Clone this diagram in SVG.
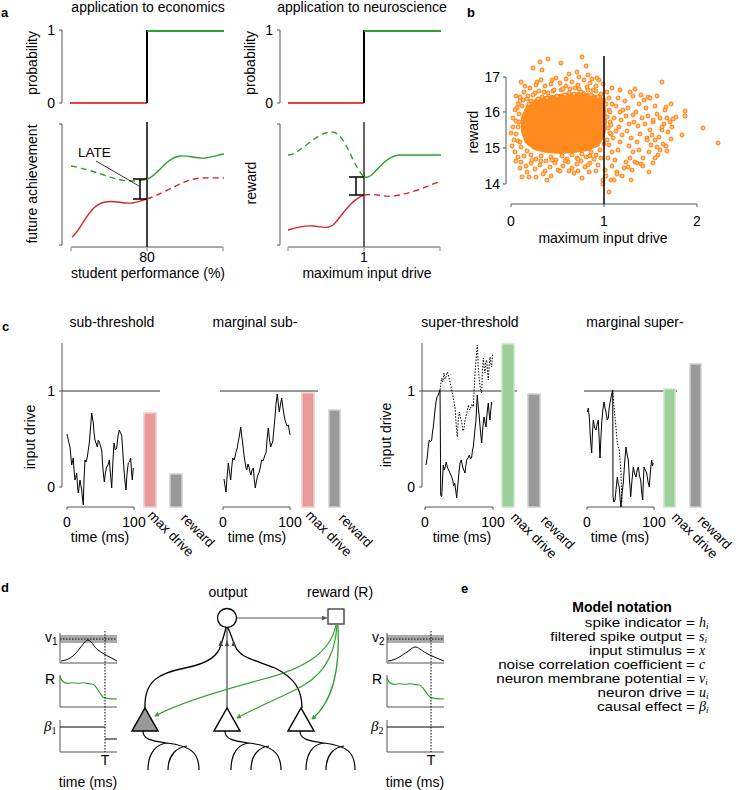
<svg xmlns="http://www.w3.org/2000/svg" width="736" height="790" viewBox="0 0 736 790">
<defs>
<style>
text{font-family:"Liberation Sans",Arial,sans-serif;font-size:14px;fill:#000}
.lbl{font-weight:bold;font-size:13px}
.mid{text-anchor:middle}
.end{text-anchor:end}
.ax{stroke:#555;stroke-width:1;fill:none}
.axg{stroke:#aaa;stroke-width:2;fill:none}
.red{stroke:#d62728;fill:none;stroke-width:1.4}
.grn{stroke:#2ca02c;fill:none;stroke-width:1.4}
.dash{stroke-dasharray:6 4}
.tr{stroke:#000;fill:none;stroke-width:1;stroke-linejoin:round}
.dt{stroke:#000;fill:none;stroke-width:1;stroke-dasharray:1.5 1.5}
.thr{stroke:#333;stroke-width:1;fill:none}
.barR{fill:#e89a9a;stroke:#f6c8c8;stroke-width:1.5}
.barG{fill:#9ccf9a;stroke:#c8e6c6;stroke-width:1.5}
.barK{fill:#999;stroke:#cfcfcf;stroke-width:1.5}
.rot{font-size:13.5px}
.math{font-family:"Liberation Serif","DejaVu Serif",serif;font-style:italic;font-size:14px}
.ent{font-size:13px;text-anchor:end}
.ln{stroke:#000;stroke-width:1.3;fill:none}
.gl{stroke:#2ca02c;stroke-width:1.2;fill:none}
.dend{stroke:#000;stroke-width:1.2;fill:none}
</style>
<marker id="pt" viewBox="0 0 6 6" refX="3" refY="3" markerWidth="6" markerHeight="6" markerUnits="userSpaceOnUse">
<circle cx="3" cy="3" r="2" fill="#ffbf85" stroke="#ff7f0e" stroke-width="1"/>
</marker>
<marker id="gArr" viewBox="0 0 6 6" refX="5" refY="3" markerWidth="5" markerHeight="5" orient="auto" markerUnits="userSpaceOnUse">
<path d="M0 0L6 3L0 6Z" fill="#2ca02c"/>
</marker>
<marker id="kArr" viewBox="0 0 6 6" refX="6" refY="3" markerWidth="6" markerHeight="5" orient="auto" markerUnits="userSpaceOnUse">
<path d="M0 0L6 3L0 6Z" fill="#555"/>
</marker>
</defs>
<rect width="736" height="790" fill="#fff"/>

<!-- Panel a: economics -->
<g id="panel-a-econ">
<text class="lbl" x="1" y="17">a</text>
<text class="mid" x="148" y="12">application to economics</text>
<path class="ax" d="M62 30V103M59 30H62M59 103H62"/>
<text class="end" x="55" y="35">1</text>
<text class="end" x="55" y="108">0</text>
<text class="mid" transform="translate(37,63) rotate(-90)">probability</text>
<path d="M70 103H147" stroke="#e04545" stroke-width="2" fill="none"/>
<path d="M147 30V103" stroke="#000" stroke-width="2"/>
<path d="M147 31H224" stroke="#2ca02c" stroke-width="2" fill="none"/>
<path class="ax" d="M62 124V245M59 124H62M59 245H62"/>
<path class="axg" d="M71 247H223"/>
<path d="M71 247v4M147 247v4M223 247v4" stroke="#aaa" stroke-width="1.5"/>
<path d="M147 122V247" stroke="#000" stroke-width="1.5"/>
<path class="grn dash" d="M71 166C95 170 115 181 130 181C138 181 143 180 147 179"/>
<path class="grn" d="M147 179C158 176 165 158 180 156C190 155 195 159 205 158C213 157 218 155 224 154"/>
<path class="red" d="M72 237C82 230 88 205 105 202C115 200 122 204 132 203C138 202 143 200 147 199"/>
<path class="red dash" d="M147 199C160 195 175 185 190 180C200 177 210 178 224 178"/>
<path d="M140 179V199M133 179H147M133 199H147" stroke="#000" stroke-width="1.5" fill="none"/>
<text x="78" y="157" style="font-size:13.5px">LATE</text>
<path d="M96 161L139 186" stroke="#000" stroke-width="0.8"/>
<text class="mid" x="147" y="262">80</text>
<text class="mid" x="148" y="278">student performance (%)</text>
<text class="mid" transform="translate(37,184) rotate(-90)">future achievement</text>
</g>

<!-- Panel a: neuroscience -->
<g id="panel-a-neuro">
<text class="mid" x="362" y="12">application to neuroscience</text>
<path class="ax" d="M280 30V103M277 30H280M277 103H280"/>
<text class="end" x="273" y="35">1</text>
<text class="end" x="273" y="108">0</text>
<text class="mid" transform="translate(255,63) rotate(-90)">probability</text>
<path d="M288 103H364" stroke="#e04545" stroke-width="2" fill="none"/>
<path d="M364 30V103" stroke="#000" stroke-width="2"/>
<path d="M364 31H441" stroke="#2ca02c" stroke-width="2" fill="none"/>
<path class="ax" d="M280 124V245M277 124H280M277 245H280"/>
<path class="axg" d="M288 247H440"/>
<path d="M288 247v4M364 247v4M440 247v4" stroke="#aaa" stroke-width="1.5"/>
<path d="M364 122V247" stroke="#333" stroke-width="1.5"/>
<path class="grn dash" d="M288 155C300 155 315 132 332 132C345 132 352 165 364 177"/>
<path class="grn" d="M364 177C375 180 380 157 400 155L441 155"/>
<path class="red" d="M288 230C298 227 305 225 313 226C322 227 328 229 333 225C340 219 350 200 364 195"/>
<path class="red dash" d="M364 195C375 193 382 197 392 196C408 195 425 187 441 181"/>
<path d="M356 177V195M349 177H364M349 195H364" stroke="#000" stroke-width="1.5" fill="none"/>
<text class="mid" x="364" y="262">1</text>
<text class="mid" x="367" y="278">maximum input drive</text>
<text class="mid" transform="translate(256,183) rotate(-90)">reward</text>
</g>

<!-- Panel b -->
<g id="panel-b">
<text class="lbl" x="467" y="17">b</text>
<text class="mid" transform="translate(478,132) rotate(-90)">reward</text>
<path class="ax" d="M506 77V184M503 77H506M503 112H506M503 148H506M503 184H506"/>
<text class="end" x="500" y="82">17</text>
<text class="end" x="500" y="117">16</text>
<text class="end" x="500" y="153">15</text>
<text class="end" x="500" y="189">14</text>
<path class="ax" d="M511 204H697M511 204v3M604 204v3M697 204v3"/>
<text class="mid" x="511" y="226">0</text>
<text class="mid" x="604" y="226">1</text>
<text class="mid" x="697" y="226">2</text>
<text class="mid" x="603" y="243">maximum input drive</text>
<polygon points="527,104 538,97 552,95 566,93 580,92 593,94 603,98 606,108 607,122 605,136 599,146 588,151 574,153 560,154 546,153 534,150 525,143 521,132 521,117" fill="#ff8a1e"/>
<path fill="none" stroke="none" marker-start="url(#pt)" marker-mid="url(#pt)" marker-end="url(#pt)" d="M523 100 528 96 531 101 535 93 538 99 544 92 547 98 553 91 556 97 561 90 565 95 570 89 574 94 579 89 583 93 588 90 591 95 596 91 600 96 604 100 606 104 609 110 607 117 610 122 608 128 611 134 607 140 604 144 600 150 596 155 591 152 586 157 582 154 577 158 572 155 567 159 562 156 556 160 551 157 546 161 541 156 536 159 531 155 527 151 524 156 521 147 518 141 516 134 518 127 516 121 519 114 517 108 522 106 520 101 520 97 524 92 527 99 530 88 533 95 536 85 539 91 542 97 545 86 548 93 551 84 554 90 557 96 560 83 563 89 566 86 569 93 572 82 575 88 578 85 581 92 584 80 587 87 590 83 593 90 596 86 599 80 601 94 603 84 525 86 529 104 518 104 515 110 513 118 516 96 521 82 541 80 556 78 566 79 579 77 592 79 598 97 513 127 511 133 514 140 512 146 515 152 518 157 521 162 526 166 531 163 535 169 540 165 545 171 550 167 555 163 558 170 563 166 568 162 572 168 577 164 581 161 585 167 590 163 594 159 598 165 601 158 596 171 589 172 574 173 543 174 527 172 520 168 516 161 532 160 541 161 552 160 565 161 578 159 590 156 519 122 520 142 607 92 609 98 612 104 610 112 614 118 611 125 616 131 613 138 609 145 612 152 608 158 615 160 618 150 620 142 622 135 619 127 621 120 623 110 618 98 625 101 628 108 626 116 629 124 627 131 631 138 629 146 633 152 630 158 635 162 626 162 624 168 632 170 639 150 637 142 640 134 638 126 642 118 636 112 639 104 633 96 644 100 646 108 648 116 645 124 650 130 647 138 651 145 655 140 653 122 657 114 655 106 660 118 662 130 659 137 664 124 667 118 665 110 670 122 668 132 673 119 676 117 649 152 643 158 641 164 655 158 660 150 612 166 617 172 605 170 606 176 614 180 622 176 616 106 610 133 620 112 634 122 641 95 648 97 620 90 612 88 657 96 671 104 633 115 630 92 582 57 540 62 548 59 561 63 533 68 542 70 586 66 577 72 569 74 588 75 597 78 552 80 537 82 662 82 635 89 650 98 666 107 685 111 685 116 703 128 718 143 682 135 662 127 653 120 672 127 522 177 529 177 536 177 547 180 551 176 560 171 569 171 578 171 582 178 588 165 603 180 603 184 609 192 611 180 617 174 631 180 628 167 637 163 643 166 649 172 653 163 658 155 667 151 666 146 663 144 671 139 657 147 652 135 647 140"/>
<path d="M604 56V204" stroke="#000" stroke-width="1.5"/>
</g>

<!-- Panel c -->
<g id="panel-c-sub">
<text class="lbl" x="2" y="331">c</text>
<text class="mid" x="112" y="327">sub-threshold</text>
<text class="mid" transform="translate(35,437) rotate(-90)">input drive</text>
<path class="ax" d="M62 343V487M59 391H62M59 487H62"/>
<text class="end" x="55" y="396">1</text>
<text class="end" x="55" y="492">0</text>
<path class="thr" d="M62 391H160"/>
<path class="ax" d="M67 507H134M67 507v3M134 507v3"/>
<text class="mid" x="67" y="527">0</text>
<text class="mid" x="134" y="527">100</text>
<text class="mid" x="100" y="542">time (ms)</text>
<polyline class="tr" points="67,434 68.5,441 70,447 71,458 71.7,465 73.3,458 74,470 75,480 76.7,473 77.5,486 78.3,493 80,480 81,486 81.7,490 82.5,498 83.3,505 84,480 85,460 86,462 87.3,457 88.3,450 89.3,443 90.5,428 91.7,413 93.3,423 94,433 95,440 96,443 97.3,447 98.3,440 99.3,442 100.5,446 101.7,450 103,470 104.3,482 105.5,472 106.7,467 108,465 109.3,460 110.5,474 111.7,488 113,460 114,443 115.3,450 116.7,448 118,436 119.3,430 120.5,433 121.7,435 123,455 124,470 125,482 126,490 127,474 128.3,463 129.5,462 130.7,458 131.5,472 132.3,480 133.3,468"/>
<rect class="barR" x="144" y="413" width="12" height="94"/>
<rect class="barK" x="170" y="474" width="12" height="33"/>
<text class="rot" transform="translate(147,516) rotate(45)">max drive</text>
<text class="rot" transform="translate(180,519) rotate(45)">reward</text>
</g>

<g id="panel-c-marginal-sub">
<text class="mid" x="255" y="327">marginal sub-</text>
<path class="thr" d="M220 391H318"/>
<path class="ax" d="M223 507H290M223 507v3M290 507v3"/>
<text class="mid" x="223" y="527">0</text>
<text class="mid" x="290" y="527">100</text>
<text class="mid" x="257" y="542">time (ms)</text>
<polyline class="tr" points="224,479 225,486 226,492 227,478 228.3,463 229.5,472 230.7,480 231.7,468 232.7,458 234,460 235,457 236,452 237.3,448 238,443 239,438 240,432 240.7,427 241.7,436 242.7,443 244,455 245,462 246,468 246.7,470 248,464 249,467 250,472 251,475 252,470 253.3,468 254.3,480 255.3,488 256.3,482 257.3,477 258.3,474 259.3,472 260.5,466 261.7,460 263,461 264,458 265,455 266,453 267,440 268.3,428 269.5,440 270.7,447 271.7,444 272.7,442 274,428 275,417 276,404 277.3,394 278.3,404 279.3,412 280.5,404 281.7,398 283,408 284,415 285,420 286,423 287,426 288.3,425 289.2,430 290,435"/>
<rect class="barR" x="302" y="393" width="12" height="114"/>
<rect class="barK" x="329" y="410" width="11" height="97"/>
<text class="rot" transform="translate(305,516) rotate(45)">max drive</text>
<text class="rot" transform="translate(338,519) rotate(45)">reward</text>
</g>

<g id="panel-c-super">
<text class="mid" x="470" y="327">super-threshold</text>
<text class="mid" transform="translate(391,435) rotate(-90)">input drive</text>
<path class="ax" d="M422 343V487M419 391H422M419 487H422"/>
<text class="end" x="415" y="396">1</text>
<text class="end" x="415" y="492">0</text>
<path class="thr" d="M422 391H517"/>
<path class="ax" d="M425 507H493M425 507v3M493 507v3"/>
<text class="mid" x="425" y="527">0</text>
<text class="mid" x="493" y="527">100</text>
<text class="mid" x="462" y="542">time (ms)</text>
<polyline class="tr" points="426,465 427.3,457 428.3,446 429.3,440 430.5,442 431.7,440 432.5,432 433.3,427 434.2,418 435,410 436,402 436.7,398 437.5,396 438.3,395 439.2,392 440,390 440.4,440 440.7,495 441.7,497 442.5,480 443.3,465 444.2,470 445,468 446.2,462 447.3,467 448.6,470 450,473 451.3,476 452.7,480 453.7,486 454.7,483 455.7,490 456.7,498 457.5,488 458.3,480 459.2,470 460,463 461.3,460 462.7,467 463.8,470 465,473 465.8,466 466.7,460 468,458 469.3,455 470.5,459 471.7,457 472.5,450 473.3,447 474.7,432 476,420 476.7,405 477.3,395 478.3,408 479.3,417 480.5,432 481.7,443 482.8,428 484,417 485,422 486,427 487.2,412 488.3,403 489.2,414 490,420 490.8,410 491.7,402"/>
<polyline class="dt" points="440,390 441.7,378 442.8,382 444,373 445,379 446,377 447.2,372 448.3,375 450,382 451.7,390 453.3,398 455,407 456.2,425 457.3,437 458.3,420 459.3,412 460.5,418 461.7,422 462.8,431 464,428 465,420 466,417 467.2,411 468.3,405 469.5,410 470.7,408 472,404 473.3,407 474.2,390 475,373 476.2,358 477.3,345 478.3,368 479.3,380 480.5,390 481.7,393 482.5,370 483.3,358 484.2,368 485,373 485.8,362 486.7,360 487.5,372 488.3,380 489.2,365 490,357 490.8,364 491.7,367 492.7,353"/>
<rect class="barG" x="502" y="344" width="12" height="163"/>
<rect class="barK" x="528" y="394" width="12" height="113"/>
<text class="rot" transform="translate(510,518) rotate(45)">max drive</text>
<text class="rot" transform="translate(540,521) rotate(45)">reward</text>
</g>

<g id="panel-c-marginal-super">
<text class="mid" x="635" y="327">marginal super-</text>
<path class="thr" d="M584 391H677"/>
<path class="ax" d="M587 507H654M587 507v3M654 507v3"/>
<text class="mid" x="587" y="527">0</text>
<text class="mid" x="654" y="527">100</text>
<text class="mid" x="620" y="542">time (ms)</text>
<polyline class="tr" points="587.3,412 588.3,408 589.3,417 590.5,440 591.7,453 592.5,432 593.3,420 594.7,428 596,430 597.2,424 598.3,420 599.2,440 600,458 600.8,440 601.7,423 602.8,410 604,402 605,408 606,412 607.2,420 608.3,418 609.2,408 610,403 611.3,396 612.7,390 612.9,440 613,497 614,502 615,500 616.2,488 617.3,477 618.3,484 619.3,487 620.2,500 621,507 622.2,492 623.3,483 624.7,462 626,447 627.2,455 628.3,460 629.5,480 630.7,497 632,480 633.3,467 634.7,474 636,477 637.2,470 638.3,467 639.5,476 640.7,480 641.7,492 642.7,500 643.3,482 644,467 645.3,470 646.7,473 648,482 649.3,487 650.5,470 651.7,460 652.5,466 653.3,463"/>
<polyline class="dt" points="612.7,390 613.8,404 615,417 616.2,430 617.3,443 618.3,447 619.3,450 620.2,462 621,473 621.5,490 622,503"/>
<rect class="barG" x="664" y="389" width="11" height="118"/>
<rect class="barK" x="690" y="364" width="11" height="143"/>
<text class="rot" transform="translate(671,518) rotate(45)">max drive</text>
<text class="rot" transform="translate(697,521) rotate(45)">reward</text>
</g>

<!-- Panel d: mini plots -->
<g id="panel-d-neuron1-traces">
<text class="lbl" x="1" y="592">d</text>
<rect x="60" y="635" width="57" height="8" fill="#aaa"/>
<path class="dt" d="M60 639H117"/>
<path class="ax" d="M60 633V663H117M60 675V707H117M60 720V752H117"/>
<path d="M61 661C70 660 75 655 80 648C84 643 86 640 88 640C91 640 94 647 98 650C103 654 110 657 117 661" stroke="#000" stroke-width="1" fill="none"/>
<path d="M60 676C62 683 66 684 70 683C74 682 77 684 81 683C85 682 88 684 92 684C96 684 98 692 103 697C106 699 110 699 117 699" stroke="#2ca02c" stroke-width="1.2" fill="none"/>
<path d="M60 727H105M105 739H117" stroke="#000" stroke-width="1" fill="none"/>
<path class="dt" d="M105 631V752" stroke="#555" stroke-width="0.8"/>
<text x="45" y="642">v<tspan font-size="10" dy="3">1</tspan></text>
<text x="45" y="684">R</text>
<text x="44" y="731" class="math" fill="#777" style="font-size:15px">β<tspan font-size="10" dy="3" font-style="normal">1</tspan></text>
<text class="mid" x="105" y="765">T</text>
<text class="mid" x="88" y="787">time (ms)</text>
</g>

<g id="panel-d-neuron2-traces">
<rect x="387" y="635" width="57" height="8" fill="#aaa"/>
<path class="dt" d="M387 639H444"/>
<path class="ax" d="M387 633V663H444M387 675V707H444M387 720V752H444"/>
<path d="M388 661C397 660 402 655 407 652C411 649 413 647 415 647C418 647 421 650 426 653C431 656 437 658 444 661" stroke="#000" stroke-width="1" fill="none"/>
<path d="M387 678C389 684 393 685 397 684C401 683 404 685 408 684C412 683 415 685 419 685C423 685 425 693 430 697C433 699 437 699 444 699" stroke="#2ca02c" stroke-width="1.2" fill="none"/>
<path d="M387 727H444" stroke="#000" stroke-width="1" fill="none"/>
<path class="dt" d="M431 631V752" stroke="#555" stroke-width="0.8"/>
<text x="372" y="642">v<tspan font-size="10" dy="3">2</tspan></text>
<text x="372" y="684">R</text>
<text x="371" y="731" class="math" fill="#777" style="font-size:15px">β<tspan font-size="10" dy="3" font-style="normal">2</tspan></text>
<text class="mid" x="431" y="765">T</text>
<text class="mid" x="415" y="787">time (ms)</text>
</g>

<!-- Panel d: network connectors -->
<g id="connectors">
<path d="M237 618H327" stroke="#555" stroke-width="1" fill="none" marker-end="url(#kArr)"/>
<path class="ln" d="M145 708C144 680 160 673 185 668C210 663 218 655 221 645C223 638 225 632 226 628"/>
<path d="M227 708V628" stroke="#555" stroke-width="1.3" fill="none"/>
<path class="ln" d="M302 708C302 690 295 678 275 668C255 660 240 658 235 646C232 638 230 632 228 628"/>
<path d="M221 640L218.5 646L223 646ZM227 640L225 646L229 646ZM233.5 640L231.5 646L236 646Z" fill="#444"/>
<path class="gl" d="M336 625C330 655 300 670 260 680C215 692 175 705 155 716" marker-end="url(#gArr)"/>
<path class="gl" d="M337 625C335 660 320 678 295 690C275 700 255 708 237 718" marker-end="url(#gArr)"/>
<path class="gl" d="M338 625C340 665 335 700 312 719" marker-end="url(#gArr)"/>
</g>

<g id="node-output">
<circle cx="227" cy="618" r="9.5" fill="#fff" stroke="#000" stroke-width="1.3"/>
<text class="mid" x="228" y="597">output</text>
</g>
<g id="node-reward">
<rect x="328" y="609" width="16" height="15" fill="#fff" stroke="#333" stroke-width="1.3"/>
<text x="307" y="597">reward (R)</text>
</g>
<g id="neuron-1">
<polygon points="145,708 132,731 158,731" fill="#999" stroke="#000" stroke-width="1.5"/>
<path class="dend" d="M143 731C143 740 153 741 167 743C190 746 199 752 199 770M148 770C148 752 157 744 167 743M168 770C168 755 177 747 187 746"/>
</g>
<g id="neuron-2">
<polygon points="227,708 214,731 240,731" fill="#fff" stroke="#000" stroke-width="1.5"/>
<path class="dend" d="M225 731C225 740 235 741 249 743C272 746 281 752 281 770M231 770C231 752 239 744 249 743M251 770C251 755 259 747 269 746"/>
</g>
<g id="neuron-3">
<polygon points="301,708 288,731 314,731" fill="#fff" stroke="#000" stroke-width="1.5"/>
<path class="dend" d="M300 731C300 740 310 741 324 743C347 746 355 752 355 770M306 770C306 752 314 744 324 743M326 770C326 755 334 747 344 746"/>
</g>

<!-- Panel e -->
<g id="panel-e">
<text class="lbl" x="461" y="593">e</text>
<text class="mid" x="622" y="612" style="font-weight:bold">Model notation</text>
<g transform="translate(695,0) scale(1.17,1)">
<text class="ent" x="0" y="627">spike indicator =</text>
<text class="ent" x="0" y="641">filtered spike output =</text>
<text class="ent" x="0" y="655">input stimulus =</text>
<text class="ent" x="0" y="669">noise correlation coefficient =</text>
<text class="ent" x="0" y="683">neuron membrane potential =</text>
<text class="ent" x="0" y="697">neuron drive =</text>
<text class="ent" x="0" y="711">causal effect =</text>
</g>
<text class="math" x="699" y="627">h<tspan font-size="9" dy="2">i</tspan></text>
<text class="math" x="699" y="641">s<tspan font-size="9" dy="2">i</tspan></text>
<text class="math" x="699" y="655">x</text>
<text class="math" x="699" y="669">c</text>
<text class="math" x="699" y="683">v<tspan font-size="9" dy="2">i</tspan></text>
<text class="math" x="699" y="697">u<tspan font-size="9" dy="2">i</tspan></text>
<text class="math" x="699" y="711">β<tspan font-size="9" dy="2">i</tspan></text>
</g>
</svg>
